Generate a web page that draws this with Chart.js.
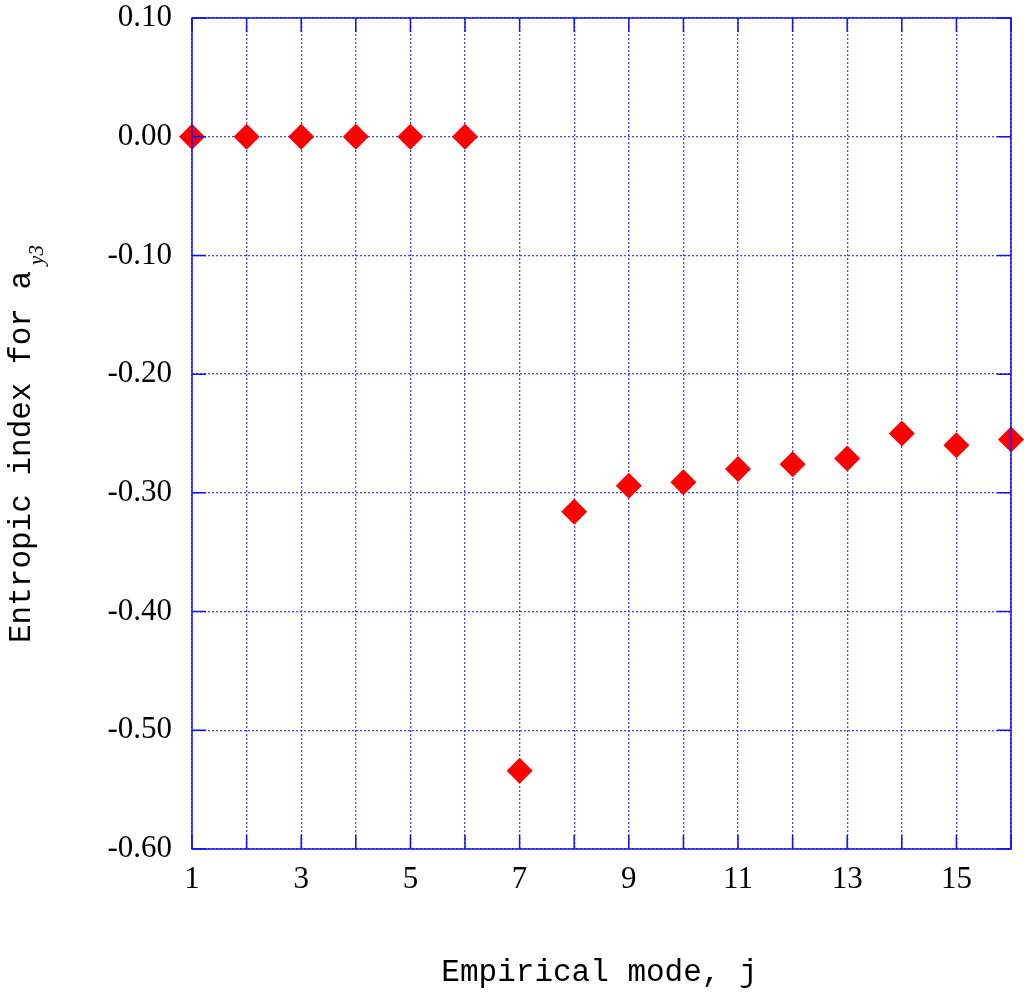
<!DOCTYPE html>
<html>
<head>
<meta charset="utf-8">
<script src="https://cdn.jsdelivr.net/npm/chart.js@4/dist/chart.umd.min.js"></script>
<style>
  html, body { margin: 0; padding: 0; background: #fff; }
  #wrap { width: 1024px; height: 995px; position: relative; }
</style>
</head>
<body>
<div id="wrap"><canvas id="chart"></canvas></div>
<script>
// Empirical mode index and entropic index values
const modes = [1, 2, 3, 4, 5, 6, 7, 8, 9, 10, 11, 12, 13, 14, 15, 16];
const entropicIndex = [0, 0, 0, 0, 0, 0, -0.534, -0.316, -0.294, -0.291, -0.280, -0.276, -0.271, -0.250, -0.260, -0.255];
const yTicks = [0.10, 0.00, -0.10, -0.20, -0.30, -0.40, -0.50, -0.60];
const xLabelled = [1, 3, 5, 7, 9, 11, 13, 15];

const BLUE = '#1010ff';
const GRID = 'rgba(50, 50, 255, 0.9)';
const RED = '#ff0000';

// Frame, inner tick marks and axis titles (y title has a subscript)
const decorations = {
  id: 'decorations',
  afterDatasetsDraw(chart) {
    const { ctx, chartArea: a, scales } = chart;
    ctx.save();
    ctx.strokeStyle = BLUE;
    ctx.lineWidth = 1.5;
    ctx.setLineDash([]);
    ctx.strokeRect(a.left, a.top, a.right - a.left, a.bottom - a.top);
    ctx.beginPath();
    modes.forEach(m => {
      const x = scales.x.getPixelForValue(m);
      ctx.moveTo(x, a.bottom); ctx.lineTo(x, a.bottom - 14);
      ctx.moveTo(x, a.top); ctx.lineTo(x, a.top + 14);
    });
    yTicks.forEach(v => {
      const y = scales.y.getPixelForValue(v);
      ctx.moveTo(a.left, y); ctx.lineTo(a.left + 14, y);
      ctx.moveTo(a.right, y); ctx.lineTo(a.right - 14, y);
    });
    ctx.stroke();

    ctx.fillStyle = '#000';
    ctx.font = '31px "Liberation Mono", "DejaVu Sans Mono", monospace';
    ctx.textAlign = 'center';
    ctx.textBaseline = 'middle';
    ctx.fillText('Empirical mode, j', (a.left + a.right) / 2 - 2, 973);

    ctx.translate(22, 643);
    ctx.rotate(-Math.PI / 2);
    ctx.textAlign = 'left';
    const main = 'Entropic index for a';
    ctx.fillText(main, 0, 0);
    const w = ctx.measureText(main).width;
    ctx.font = 'italic 21px "Liberation Serif", "Times New Roman", serif';
    ctx.fillText('y3', w + 6, 15);
    ctx.restore();
  }
};

new Chart(document.getElementById('chart'), {
  type: 'scatter',
  data: {
    datasets: [{
      data: modes.map((m, i) => ({ x: m, y: entropicIndex[i] })),
      pointStyle: 'rectRot',
      pointRadius: 13,
      pointHoverRadius: 13,
      backgroundColor: RED,
      borderColor: RED,
      borderWidth: 0,
      clip: false
    }]
  },
  options: {
    responsive: true,
    maintainAspectRatio: false,
    animation: false,
    layout: { padding: { top: 18, right: 11, left: 0, bottom: 0 } },
    plugins: {
      legend: { display: false },
      tooltip: { enabled: false }
    },
    scales: {
      x: {
        type: 'linear',
        min: 1,
        max: 16,
        afterFit: s => { s.height = 146; s.paddingLeft = 0; s.paddingRight = 0; },
        afterBuildTicks: s => { s.ticks = modes.map(v => ({ value: v })); },
        ticks: {
          color: '#000',
          font: { family: '"Liberation Serif", "Times New Roman", serif', size: 31 },
          padding: 12,
          maxRotation: 0,
          autoSkip: false,
          callback: v => xLabelled.includes(v) ? String(v) : ''
        },
        grid: { color: GRID, lineWidth: 1.3, drawTicks: false },
        border: { display: false, dash: [2, 2] }
      },
      y: {
        min: -0.60,
        max: 0.10,
        afterFit: s => { s.width = 192; s.paddingTop = 0; s.paddingBottom = 0; },
        afterBuildTicks: s => { s.ticks = yTicks.map(v => ({ value: v })); },
        ticks: {
          color: '#000',
          font: { family: '"Liberation Serif", "Times New Roman", serif', size: 31 },
          padding: 20,
          autoSkip: false,
          callback: v => v.toFixed(2)
        },
        grid: { color: GRID, lineWidth: 1.3, drawTicks: false },
        border: { display: false, dash: [2, 2] }
      }
    }
  },
  plugins: [decorations]
});
</script>
</body>
</html>
